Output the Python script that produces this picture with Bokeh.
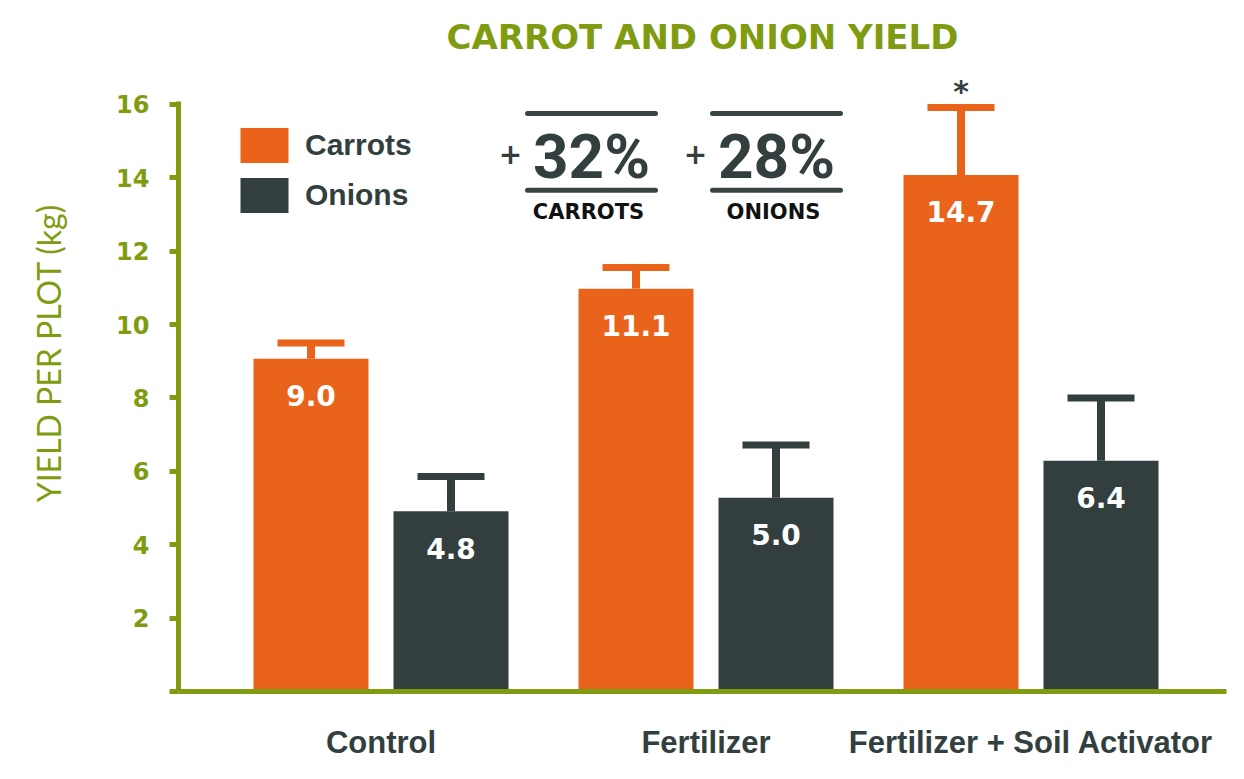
from bokeh.plotting import figure
from bokeh.models import (ColumnDataSource, Range1d, FixedTicker, Whisker, TeeHead,
                          Label, Legend, LegendItem, LinearAxis)
from bokeh.core.properties import value
from bokeh.embed import file_html
from bokeh.resources import INLINE

# ---------------- data ----------------
categories = ["Control", "Fertilizer", "Fertilizer + Soil Activator"]
group_pos = [1, 2, 3]
carrot_values = [9.07, 10.98, 14.08]
carrot_err_top = [9.50, 11.56, 15.92]
carrot_labels = ["9.0", "11.1", "14.7"]
onion_values = [4.91, 5.28, 6.29]
onion_err_top = [5.86, 6.72, 8.00]
onion_labels = ["4.8", "5.0", "6.4"]
y_ticks = [0, 2, 4, 6, 8, 10, 12, 14, 16]
y_title = "YIELD PER PLOT (kg)"
increase_pct = ["32%", "28%"]
increase_names = ["CARROTS", "ONIONS"]
significance = "*"

# ---------------- style ----------------
OLIVE = "#7f9c11"
ORANGE = "#e9641a"
DARK = "#333f3f"
W, H = 1228, 763
LEFT, TOP, BOTTOM, RIGHT = 178, 100, 72, 2
PX_PER_Y = 36.75
PX_PER_X = 325.0
X0_PIX = 380.5  # pixel of group 1 centre
frame_w = W - LEFT - RIGHT
frame_h = H - TOP - BOTTOM
x_start = 1 - (X0_PIX - LEFT) / PX_PER_X
x_end = x_start + frame_w / PX_PER_X
y_end = frame_h / PX_PER_Y
AXIS_Y_PIX = TOP + frame_h


def xd(px):
    return x_start + (px - LEFT) / PX_PER_X


def yd(py):
    return (AXIS_Y_PIX - py) / PX_PER_Y


bar_w = 115 / PX_PER_X
off = 70 / PX_PER_X

p = figure(width=W, height=H, output_backend="svg", toolbar_location=None,
           x_range=Range1d(x_start, x_end), y_range=Range1d(0, y_end),
           min_border_left=LEFT, min_border_right=RIGHT,
           min_border_top=TOP, min_border_bottom=BOTTOM)
p.outline_line_color = None
p.grid.visible = False
p.background_fill_color = "white"
p.border_fill_color = "white"

# title
p.title.text = "CARROT AND ONION YIELD"
p.title.align = "center"
p.title.text_font = "DejaVu Sans"
p.title.text_font_style = "bold"
p.title.text_font_size = "34px"
p.title.text_color = OLIVE
p.title.standoff = 28

carrot_x = [g - off for g in group_pos]
onion_x = [g + off for g in group_pos]
src_c = ColumnDataSource(dict(x=carrot_x, top=carrot_values, up=carrot_err_top, lab=carrot_labels))
src_o = ColumnDataSource(dict(x=onion_x, top=onion_values, up=onion_err_top, lab=onion_labels))

r_c = p.vbar(x="x", top="top", width=bar_w, source=src_c, fill_color=ORANGE, line_color=None)
r_o = p.vbar(x="x", top="top", width=bar_w, source=src_o, fill_color=DARK, line_color=None)

for src, col in ((src_c, ORANGE), (src_o, DARK)):
    wh = Whisker(source=src, base="x", lower="top", upper="up", dimension="height",
                 line_color=col, line_width=8, lower_head=None,
                 upper_head=TeeHead(size=67, line_color=col, line_width=7))
    p.add_layout(wh)
    p.text(x="x", y="top", text="lab", source=src, y_offset=37,
           text_align="center", text_baseline="middle", text_color="white",
           text_font=value("DejaVu Sans"), text_font_style="bold", text_font_size="28px")

# axes
ya = p.yaxis[0]
ya.ticker = FixedTicker(ticks=y_ticks)
ya.major_label_overrides = {0: ""}
ya.axis_line_color = OLIVE
ya.axis_line_width = 5
ya.major_tick_line_color = OLIVE
ya.major_tick_line_width = 5
ya.major_tick_out = 9
ya.major_tick_in = 0
ya.minor_tick_line_color = None
ya.major_label_standoff = 20
ya.major_label_text_color = OLIVE
ya.major_label_text_font = "DejaVu Sans"
ya.major_label_text_font_style = "bold"
ya.major_label_text_font_size = "24px"

xa = p.xaxis[0]
xa.ticker = FixedTicker(ticks=group_pos)
xa.major_label_overrides = {g: c for g, c in zip(group_pos, categories)}
xa.axis_line_color = OLIVE
xa.axis_line_width = 5
xa.major_tick_line_color = None
xa.major_tick_out = 0
xa.major_tick_in = 0
xa.minor_tick_line_color = None
xa.major_label_standoff = 33
xa.major_label_text_color = DARK
xa.major_label_text_font = "Liberation Sans"
xa.major_label_text_font_style = "bold"
xa.major_label_text_font_size = "31px"

# y axis title: an extra left axis carrying one vertical label
title_pos = yd(352)
ylab_axis = LinearAxis(ticker=FixedTicker(ticks=[title_pos]),
                       major_label_overrides={title_pos: y_title},
                       major_label_orientation="vertical",
                       axis_line_color=None, major_tick_line_color=None,
                       minor_tick_line_color=None, major_tick_out=0, major_tick_in=0,
                       major_label_standoff=45, major_label_text_color=OLIVE,
                       major_label_text_font="Lato", major_label_text_font_size="32px")
p.add_layout(ylab_axis, "left")

# significance marker: an axis above carrying one label
sig_axis = LinearAxis(ticker=FixedTicker(ticks=[carrot_x[2]]),
                      major_label_overrides={carrot_x[2]: significance},
                      axis_line_color=None, major_tick_line_color=None,
                      minor_tick_line_color=None, major_tick_out=0, major_tick_in=0,
                      major_label_standoff=-7, major_label_text_color=DARK,
                      major_label_text_font="DejaVu Sans", major_label_text_font_style="bold",
                      major_label_text_font_size="30px")
p.add_layout(sig_axis, "above")

# legend
legend = Legend(items=[LegendItem(label="Carrots", renderers=[r_c]),
                       LegendItem(label="Onions", renderers=[r_o])],
                location=(56, 474), glyph_width=60, glyph_height=44, spacing=6,
                label_standoff=11, padding=0, margin=0, label_height=44,
                border_line_color=None, background_fill_alpha=0,
                label_text_font="Liberation Sans", label_text_font_style="bold",
                label_text_font_size="30px", label_text_color=DARK)
p.add_layout(legend)

# increase annotations
for cx, pct, name, plus_x in ((591, increase_pct[0], increase_names[0], 510),
                              (776, increase_pct[1], increase_names[1], 695)):
    p.segment(x0=[xd(cx - 64)] * 2, x1=[xd(cx + 64)] * 2, y0=[yd(112), yd(189)],
              y1=[yd(112), yd(189)], line_width=5, line_cap="round", line_color="#3a4444")
    p.add_layout(Label(x=xd(plus_x), y=yd(152), text="+", text_align="center",
                       text_baseline="middle", text_color=DARK, text_font="DejaVu Sans",
                       text_font_style="bold", text_font_size="28px"))
    p.add_layout(Label(x=xd(cx), y=yd(155), text=pct, text_align="center",
                       text_baseline="middle", text_color=DARK, text_font="Roboto",
                       text_font_style="bold", text_font_size="62px"))
    p.add_layout(Label(x=xd(cx - 3), y=yd(211), text=name, text_align="center",
                       text_baseline="middle", text_color="#111111", text_font="DejaVu Sans",
                       text_font_style="bold", text_font_size="21px"))

open("out.html", "w").write(file_html(p, INLINE))
